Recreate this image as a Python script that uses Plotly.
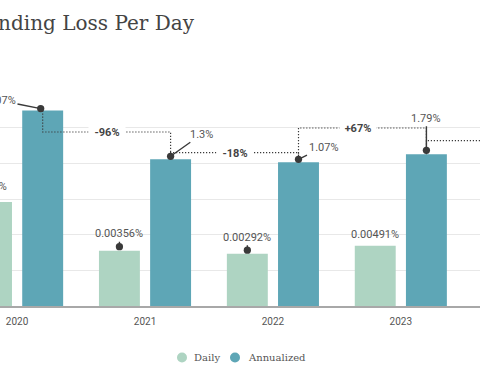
import math
import plotly.graph_objects as go

# ---------------- data ----------------
years = ["2020", "2021", "2022", "2023", "2024"]
daily = [0.0824, 0.00356, 0.00292, 0.00491]          # % per day
annualized = [30.07, 1.3, 1.07, 1.79]                # % per year
daily_labels = ["0.0824%", "0.00356%", "0.00292%", "0.00491%"]
annual_labels = ["30.07%", "1.3%", "1.07%", "1.79%"]
change_labels = ["-96%", "-18%", "+67%"]

# ---------------- layout constants ----------------
W, H = 480, 384
TOP, BOT = 92, 306             # plot area in px
Y_RANGE = [-4, 2]              # log10 of percent
X_RANGE = [-0.1337, 3.619]
OFF = 0.2                      # bar offset inside group

C_DAILY = "#aed4c2"
C_ANN = "#5ea6b6"
TXT = "#555555"
DARK = "#3a3a3a"


def py(pix):
    return (BOT - pix) / (BOT - TOP)


def px(pix):
    return pix / W


def x_to_paper(v):
    return (v - X_RANGE[0]) / (X_RANGE[1] - X_RANGE[0])


def level_from_px(pix):
    # convert a pixel height to a value on the log axis (layout helper)
    return 10 ** (Y_RANGE[0] + py(pix) * (Y_RANGE[1] - Y_RANGE[0]))


bracket_px = [132, 152.7, 128, 140.7]
bracket_levels = [level_from_px(p) for p in bracket_px]

n = len(daily)
xd = [i - OFF for i in range(n)]
xa = [i + OFF for i in range(n)]

fig = go.Figure()
fig.add_trace(go.Bar(x=list(range(n)), y=daily, name="Daily",
                     marker=dict(color=C_DAILY, line=dict(width=0)),
                     showlegend=False, hoverinfo="skip"))
fig.add_trace(go.Bar(x=list(range(n)), y=annualized, name="Annualized",
                     marker=dict(color=C_ANN, line=dict(width=0)),
                     showlegend=False, hoverinfo="skip"))

# bracket connectors between annualized bars
line_style = dict(color=DARK, width=1.2, dash="1.2px,1.8px")
for i in range(n - 1):
    lv = bracket_levels[i]
    fig.add_trace(go.Scatter(
        x=[xa[i], xa[i], xa[i + 1], xa[i + 1]],
        y=[annualized[i], lv, lv, annualized[i + 1]],
        mode="lines", line=line_style, showlegend=False, hoverinfo="skip"))
# connector toward next (off-screen) year
lv = bracket_levels[3]
fig.add_trace(go.Scatter(x=[xa[3], xa[3], 4.5], y=[annualized[3], lv, lv],
                         mode="lines", line=line_style, showlegend=False,
                         hoverinfo="skip"))

ann = []
lab_font = dict(family="Roboto, sans-serif", size=11, color=TXT)
arrow = dict(showarrow=True, arrowhead=6, arrowsize=1.3, arrowwidth=1.4,
             arrowcolor=DARK, standoff=0)

# daily labels: (ax, ay, yshift, showarrow)
daily_pos = [(-6, -13, 3, False), (0, -13, 4, True), (0, -13, 3.5, True),
             (0, 0, 11, False)]
for i, (axp, ayp, ys, sa) in enumerate(daily_pos):
    xpos, xr = xd[i], "x"
    xs = 0
    if xd[i] < X_RANGE[0]:
        # anchor lies just left of the view: place it in paper units
        xpos, xr = x_to_paper(xd[i]), "paper"
        xs = axp
    d = dict(x=xpos, y=math.log10(daily[i]), xref=xr, yref="y",
             text=daily_labels[i], font=lab_font, yshift=ys, xshift=xs)
    if sa:
        d.update(arrow)
        d.update(ax=axp, ay=ayp)
    else:
        d.update(showarrow=False, yshift=ys - ayp, xanchor="center")
    ann.append(d)

# annualized labels
ann_pos = [(-43, -8.5, 2, -2), (31, -22, 3, 0), (25, -12, 3, 0), (0, -32, 4, 0)]
for i, (axp, ayp, ys, xs) in enumerate(ann_pos):
    d = dict(x=xa[i], y=math.log10(annualized[i]), xref="x", yref="y",
             text=annual_labels[i], font=lab_font, yshift=ys, xshift=xs,
             ax=axp, ay=ayp)
    d.update(arrow)
    ann.append(d)

# change labels in bracket gaps
for i, t in enumerate(change_labels):
    ann.append(dict(x=(xa[i] + xa[i + 1]) / 2, y=math.log10(bracket_levels[i]),
                    xref="x", yref="y", text="<b>%s</b>" % t, showarrow=False,
                    font=dict(family="Roboto, sans-serif", size=11, color="#444"),
                    bgcolor="white", width=36, height=14, borderpad=0,
                    xshift=(-4 if i == 2 else 0)))

# title (left part is outside the view)
ann.append(dict(x=px(197), y=py(23), xref="paper", yref="paper",
                xanchor="right", yanchor="middle", showarrow=False,
                text="Lending Loss Per Day",
                font=dict(family="DejaVu Serif, serif", size=20, color="#444")))

# legend
legend_items = [("Daily", C_DAILY, 182, 192), ("Annualized", C_ANN, 235, 246)]
shapes = []
for name, col, cx, tx in legend_items:
    shapes.append(dict(type="circle", xref="paper", yref="paper",
                       xsizemode="pixel", ysizemode="pixel",
                       xanchor=px(cx), yanchor=py(357.5),
                       x0=-5, x1=5, y0=-5, y1=5,
                       fillcolor=col, line=dict(width=0)))
    ann.append(dict(x=px(tx), y=py(357.5), xref="paper", yref="paper",
                    xanchor="left", yanchor="middle", showarrow=False,
                    text=name,
                    font=dict(family="DejaVu Serif, serif", size=10, color=TXT)))

fig.update_layout(
    width=W, height=H,
    margin=dict(l=0, r=0, t=TOP, b=H - BOT, pad=0),
    paper_bgcolor="white", plot_bgcolor="white",
    barmode="group", bargap=0.2, bargroupgap=0.2,
    showlegend=False,
    annotations=ann, shapes=shapes,
    xaxis=dict(range=X_RANGE, tickvals=list(range(len(years))), ticktext=years,
               showgrid=False, zeroline=False, showline=True,
               linecolor="#a8a8a8", linewidth=1.5, ticks="",
               ticklabelstandoff=5,
               tickfont=dict(family="Roboto, sans-serif", size=10, color=TXT)),
    yaxis=dict(type="log", range=Y_RANGE, dtick=1, showgrid=True,
               gridcolor="#e8e8e8", gridwidth=1, showticklabels=False,
               zeroline=False, showline=False, ticks=""),
)

fig.write_html("out.html",
               config={"displayModeBar": False},
               post_script="document.body.style.margin='0';"
                           "document.body.style.overflow='hidden';")
